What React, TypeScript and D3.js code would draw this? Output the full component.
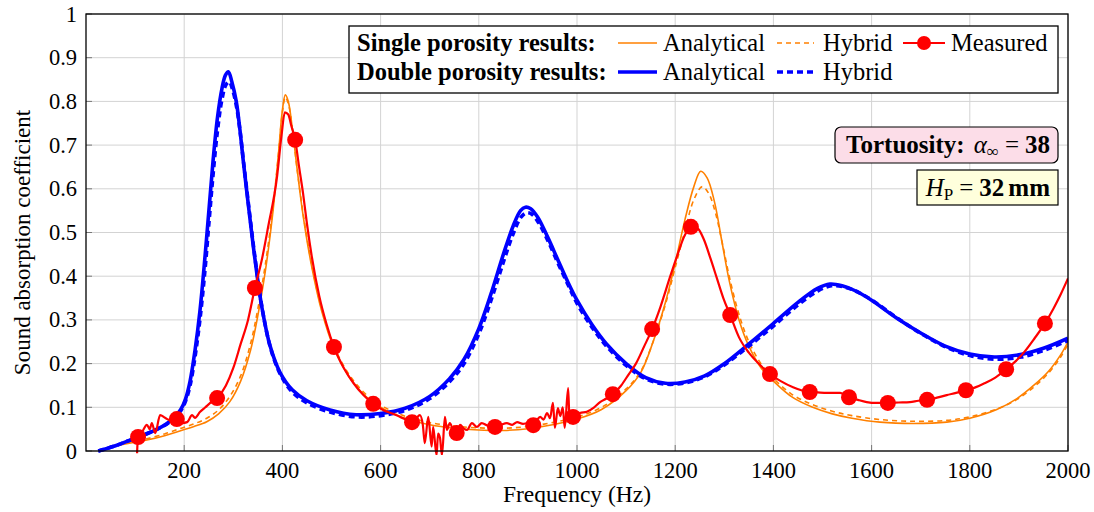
import React from 'react';
import * as d3 from 'd3';

type P = [number, number];

const xTicks = [200, 400, 600, 800, 1000, 1200, 1400, 1600, 1800, 2000];
const yTicks = [0, 0.1, 0.2, 0.3, 0.4, 0.5, 0.6, 0.7, 0.8, 0.9, 1];

const singleAnalytical: P[] = [
  [50, 0.01], [80, 0.016], [100, 0.02], [124, 0.025], [160, 0.035], [191, 0.046], [220, 0.056], [246, 0.067],
  [270, 0.085], [293, 0.113], [315, 0.16], [335, 0.23], [350, 0.31], [365, 0.41], [380, 0.54], [392, 0.68],
  [400, 0.78], [406, 0.815], [412, 0.8], [420, 0.74], [430, 0.645], [442, 0.54], [460, 0.42], [480, 0.32],
  [505, 0.235], [540, 0.163], [580, 0.115], [620, 0.088], [660, 0.071], [700, 0.06], [750, 0.052], [800, 0.048],
  [850, 0.047], [900, 0.051], [950, 0.06], [1000, 0.073], [1050, 0.095], [1100, 0.138], [1130, 0.18], [1155, 0.25],
  [1180, 0.34], [1200, 0.43], [1220, 0.53], [1238, 0.605], [1252, 0.64], [1265, 0.625], [1280, 0.57], [1295, 0.48],
  [1310, 0.39], [1330, 0.3], [1350, 0.24], [1375, 0.19], [1400, 0.16], [1440, 0.122], [1480, 0.1], [1520, 0.085],
  [1560, 0.075], [1617, 0.066], [1685, 0.063], [1753, 0.066], [1800, 0.075], [1855, 0.095], [1896, 0.12],
  [1930, 0.15], [1960, 0.182], [1985, 0.22], [2000, 0.25],
];

const singleHybrid: P[] = [
  [50, 0.011], [80, 0.018], [100, 0.022], [124, 0.028], [160, 0.039], [191, 0.051], [220, 0.062], [246, 0.075],
  [270, 0.094], [293, 0.125], [315, 0.172], [335, 0.245], [350, 0.325], [365, 0.425], [380, 0.55], [392, 0.68],
  [400, 0.775], [406, 0.81], [412, 0.795], [420, 0.74], [430, 0.645], [442, 0.545], [460, 0.425], [480, 0.325],
  [505, 0.24], [540, 0.168], [580, 0.12], [620, 0.093], [660, 0.076], [700, 0.065], [750, 0.057], [800, 0.053],
  [850, 0.052], [900, 0.056], [950, 0.065], [1000, 0.078], [1050, 0.1], [1100, 0.142], [1130, 0.183], [1155, 0.25],
  [1180, 0.335], [1200, 0.42], [1220, 0.505], [1238, 0.575], [1255, 0.605], [1268, 0.59], [1282, 0.545], [1297, 0.47],
  [1312, 0.39], [1332, 0.305], [1352, 0.245], [1377, 0.196], [1400, 0.166], [1440, 0.128], [1480, 0.106], [1520, 0.091],
  [1560, 0.081], [1617, 0.072], [1685, 0.068], [1753, 0.07], [1800, 0.078], [1855, 0.096], [1896, 0.118],
  [1930, 0.146], [1960, 0.178], [1985, 0.215], [2000, 0.245],
];

const doubleAnalytical: P[] = [
  [25, 0.0], [60, 0.012], [90, 0.025], [125, 0.04], [145, 0.05], [165, 0.063], [180, 0.077], [193, 0.095],
  [203, 0.12], [212, 0.16], [222, 0.23], [232, 0.32], [242, 0.44], [251, 0.56], [259, 0.667], [268, 0.765], [277, 0.83],
  [284, 0.86], [290, 0.868], [297, 0.845], [306, 0.8], [313, 0.74], [320, 0.667], [332, 0.55], [344, 0.44],
  [358, 0.33], [375, 0.24], [395, 0.18], [420, 0.14], [450, 0.115], [497, 0.094], [550, 0.083], [600, 0.086],
  [650, 0.098], [700, 0.125], [740, 0.165], [770, 0.21], [800, 0.28], [825, 0.36], [850, 0.45], [870, 0.515],
  [885, 0.55], [895, 0.558], [905, 0.555], [920, 0.535], [940, 0.49], [960, 0.44], [980, 0.39], [1000, 0.345],
  [1030, 0.29], [1060, 0.245], [1100, 0.2], [1140, 0.168], [1180, 0.155], [1220, 0.158], [1260, 0.172],
  [1300, 0.2], [1350, 0.245], [1400, 0.292], [1450, 0.34], [1490, 0.372], [1515, 0.382], [1540, 0.378],
  [1570, 0.365], [1600, 0.345], [1650, 0.305], [1700, 0.27], [1750, 0.24], [1800, 0.222], [1850, 0.215],
  [1900, 0.22], [1950, 0.235], [2000, 0.258],
];

const doubleHybrid: P[] = [
  [25, 0.0], [60, 0.012], [90, 0.025], [125, 0.04], [145, 0.05], [165, 0.062], [180, 0.075], [193, 0.092],
  [203, 0.115], [212, 0.15], [222, 0.215], [232, 0.3], [242, 0.41], [251, 0.53], [259, 0.635], [268, 0.735], [277, 0.805],
  [285, 0.838], [292, 0.845], [299, 0.825], [307, 0.785], [314, 0.73], [321, 0.66], [333, 0.545], [345, 0.435],
  [359, 0.325], [376, 0.235], [396, 0.175], [420, 0.135], [450, 0.11], [497, 0.089], [550, 0.078], [600, 0.081],
  [650, 0.093], [700, 0.12], [740, 0.158], [770, 0.2], [800, 0.268], [825, 0.345], [850, 0.432], [870, 0.497],
  [886, 0.535], [897, 0.545], [908, 0.542], [922, 0.522], [942, 0.478], [962, 0.428], [982, 0.38], [1000, 0.338],
  [1030, 0.284], [1060, 0.24], [1100, 0.196], [1140, 0.165], [1180, 0.153], [1220, 0.156], [1260, 0.17],
  [1300, 0.197], [1350, 0.24], [1400, 0.286], [1450, 0.334], [1490, 0.366], [1518, 0.378], [1545, 0.375],
  [1575, 0.362], [1605, 0.342], [1655, 0.302], [1705, 0.266], [1755, 0.236], [1805, 0.217], [1855, 0.21],
  [1905, 0.215], [1955, 0.232], [2000, 0.253],
];

const measuredCurve: P[] = [
  [104, -0.005], [106, 0.032], [115, 0.045], [124, 0.06], [130, 0.05], [134, 0.064], [141, 0.041], [151, 0.082],
  [161, 0.076], [172, 0.07], [185, 0.073], [196, 0.064], [206, 0.066], [216, 0.082], [222, 0.076], [232, 0.089],
  [243, 0.1], [253, 0.11], [267, 0.121], [285, 0.15], [300, 0.19], [315, 0.245], [330, 0.3], [344, 0.373],
  [358, 0.437], [371, 0.513], [389, 0.627], [398, 0.72], [405, 0.775], [412, 0.77], [418, 0.745], [426, 0.712],
  [434, 0.65], [442, 0.59], [450, 0.52], [460, 0.444], [475, 0.355], [490, 0.29], [505, 0.238], [525, 0.19],
  [545, 0.155], [565, 0.128], [585, 0.108], [605, 0.094], [625, 0.085], [640, 0.078], [655, 0.07], [664, 0.066],
  [672, 0.074], [680, 0.082], [686, 0.06], [690, 0.018], [697, 0.078], [704, 0.01], [707, 0.055], [714, -0.01],
  [717, 0.04], [721, 0.03], [725, -0.01], [731, 0.078], [735, 0.048], [741, 0.064], [747, 0.05], [755, 0.041],
  [762, 0.06], [769, 0.052], [776, 0.048], [786, 0.064], [796, 0.055], [806, 0.064], [818, 0.058], [833, 0.055],
  [845, 0.06], [857, 0.064], [868, 0.06], [878, 0.066], [890, 0.062], [900, 0.064], [911, 0.059], [918, 0.07],
  [925, 0.078], [932, 0.072], [939, 0.087], [945, 0.075], [951, 0.11], [955, 0.053], [961, 0.098], [966, 0.08],
  [971, 0.1], [975, 0.053], [982, 0.144], [985, 0.064], [992, 0.078], [1006, 0.087], [1020, 0.09], [1035, 0.1],
  [1047, 0.112], [1060, 0.12], [1073, 0.13], [1090, 0.15], [1105, 0.175], [1120, 0.2], [1137, 0.24], [1153, 0.279],
  [1170, 0.33], [1190, 0.4], [1205, 0.45], [1218, 0.49], [1232, 0.513], [1245, 0.51], [1258, 0.485], [1272, 0.44],
  [1285, 0.395], [1298, 0.35], [1312, 0.311], [1330, 0.26], [1350, 0.225], [1370, 0.2], [1393, 0.176], [1415, 0.16],
  [1440, 0.146], [1460, 0.138], [1474, 0.135], [1490, 0.134], [1509, 0.133], [1536, 0.133], [1554, 0.123],
  [1572, 0.117], [1590, 0.112], [1610, 0.11], [1633, 0.11], [1655, 0.111], [1678, 0.112], [1695, 0.115],
  [1713, 0.117], [1733, 0.122], [1753, 0.128], [1772, 0.133], [1792, 0.139], [1810, 0.145], [1830, 0.155],
  [1852, 0.168], [1874, 0.187], [1893, 0.205], [1912, 0.228], [1932, 0.258], [1953, 0.292], [1970, 0.325],
  [1985, 0.358], [2000, 0.395],
];

const markerFreqs = [106, 185, 267, 344, 426, 505, 585, 664, 755, 833, 911, 992, 1073, 1153, 1232, 1312, 1393, 1474, 1554, 1633, 1713, 1792, 1874, 1953];
const markerValues = [0.032, 0.073, 0.121, 0.373, 0.712, 0.238, 0.108, 0.066, 0.041, 0.055, 0.059, 0.078, 0.13, 0.279, 0.513, 0.311, 0.176, 0.135, 0.123, 0.11, 0.117, 0.139, 0.187, 0.292];

const ORANGE = '#ff8000';
const RED = '#ff0000';
const BLUE = '#0000ff';
const FONT = '"Liberation Serif", "Times New Roman", Times, serif';

export default function App() {
  const X0 = 86, X1 = 1068, Y0 = 451, Y1 = 14;
  const x = d3.scaleLinear().domain([0, 2000]).range([X0, X1]);
  const y = d3.scaleLinear().domain([0, 1]).range([Y0, Y1]);
  const smooth = d3.line<P>().x(d => x(d[0])).y(d => y(d[1])).curve(d3.curveCatmullRom.alpha(0.5));
  const measLine = d3.line<P>().x(d => x(d[0])).y(d => y(d[1])).curve(d3.curveMonotoneX);
  const fmt = (v: number) => (v === 0 ? '0' : v === 1 ? '1' : d3.format('.1f')(v));

  const row1 = 51, row2 = 80;
  const lx = 618;
  const ts = { fontFamily: FONT };
  const LF = 24.5;

  return (
    <svg width={1094} height={512} style={{ position: 'absolute', left: 0, top: 0, display: 'block', background: '#fff', fontFamily: FONT }}>
      <defs>
        <clipPath id="plotclip">
          <rect x={X0} y={Y1} width={X1 - X0} height={Y0 - Y1 + 4} />
        </clipPath>
      </defs>
      <rect x={0} y={0} width={1094} height={512} fill="#fff" />
      {/* grid */}
      {xTicks.map(t => (
        <line key={'gx' + t} x1={x(t)} x2={x(t)} y1={Y1} y2={Y0} stroke="#d3d3d3" strokeWidth={1} />
      ))}
      {yTicks.map(t => (
        <line key={'gy' + t} x1={X0} x2={X1} y1={y(t)} y2={y(t)} stroke="#d3d3d3" strokeWidth={1} />
      ))}
      {/* ticks */}
      {xTicks.map(t => (
        <g key={'tx' + t}>
          <line x1={x(t)} x2={x(t)} y1={Y0} y2={Y0 - 6} stroke="#777" strokeWidth={1} />
          <text style={ts} x={x(t)} y={Y0 + 27} textAnchor="middle" fontSize={22.5}>{t}</text>
        </g>
      ))}
      {yTicks.map(t => (
        <g key={'ty' + t}>
          <line x1={X0} x2={X0 + 6} y1={y(t)} y2={y(t)} stroke="#777" strokeWidth={1} />
          <text style={ts} x={X0 - 9} y={y(t) + 7.5} textAnchor="end" fontSize={22.5}>{fmt(t)}</text>
        </g>
      ))}
      {/* curves */}
      <g clipPath="url(#plotclip)" fill="none">
        <path d={smooth(singleAnalytical) || ''} stroke={ORANGE} strokeWidth={1.6} />
        <path d={smooth(singleHybrid) || ''} stroke={ORANGE} strokeWidth={1.6} strokeDasharray="5 4" />
        <path d={smooth(doubleAnalytical) || ''} stroke={BLUE} strokeWidth={3.6} />
        <path d={smooth(doubleHybrid) || ''} stroke={BLUE} strokeWidth={3.6} strokeDasharray="6 4" />
        <path d={measLine(measuredCurve) || ''} stroke={RED} strokeWidth={2.2} strokeLinejoin="round" />
      </g>
      {markerFreqs.map((f, i) => (
        <circle key={'m' + i} cx={x(f)} cy={y(markerValues[i])} r={8} fill={RED} />
      ))}
      {/* frame */}
      <rect x={X0} y={Y1} width={X1 - X0} height={Y0 - Y1} fill="none" stroke="#000" strokeWidth={1.3} />
      {/* axis labels */}
      <text style={ts} x={(X0 + X1) / 2} y={502} textAnchor="middle" fontSize={23.5}>Frequency (Hz)</text>
      <text style={ts} transform={`translate(30, ${(Y0 + Y1) / 2 + 10}) rotate(-90)`} textAnchor="middle" fontSize={23}>Sound absorption coefficient</text>
      {/* legend */}
      <rect x={349} y={26} width={709} height={67} fill="#fff" stroke="#000" strokeWidth={1.3} />
      <text style={ts} x={357} y={row1} fontSize={LF} fontWeight="bold">Single porosity results:</text>
      <text style={ts} x={357} y={row2} fontSize={LF} fontWeight="bold">Double porosity results:</text>
      <line x1={lx} x2={lx + 39} y1={row1 - 8} y2={row1 - 8} stroke={ORANGE} strokeWidth={1.6} />
      <text style={ts} x={663} y={row1} fontSize={LF}>Analytical</text>
      <line x1={777} x2={814} y1={row1 - 8} y2={row1 - 8} stroke={ORANGE} strokeWidth={1.6} strokeDasharray="5 4" />
      <text style={ts} x={823} y={row1} fontSize={LF}>Hybrid</text>
      <line x1={903} x2={945} y1={row1 - 8} y2={row1 - 8} stroke={RED} strokeWidth={2.2} />
      <circle cx={924} cy={row1 - 8} r={7} fill={RED} />
      <text style={ts} x={951} y={row1} fontSize={LF}>Measured</text>
      <line x1={lx} x2={lx + 39} y1={row2 - 8} y2={row2 - 8} stroke={BLUE} strokeWidth={3.6} />
      <text style={ts} x={663} y={row2} fontSize={LF}>Analytical</text>
      <line x1={777} x2={814} y1={row2 - 8} y2={row2 - 8} stroke={BLUE} strokeWidth={3.6} strokeDasharray="6 4" />
      <text style={ts} x={823} y={row2} fontSize={LF}>Hybrid</text>
      {/* annotations */}
      <rect x={835} y={127} width={223} height={36} rx={6} ry={6} fill="#fcdde8" stroke="#000" strokeWidth={1.2} />
      <text style={ts} x={1050} y={153} textAnchor="end" fontSize={25}>
        <tspan fontWeight="bold">Tortuosity:</tspan>
        <tspan fontStyle="italic" dx={9}>α</tspan>
        <tspan fontSize={17} dy={4}>∞</tspan>
        <tspan dy={-4} dx={6}>=</tspan>
        <tspan fontWeight="bold" dx={6}>38</tspan>
      </text>
      <rect x={917} y={170} width={141} height={35} fill="#ffffdc" stroke="#000" strokeWidth={1.2} />
      <text style={ts} x={1050} y={196} textAnchor="end" fontSize={25}>
        <tspan fontStyle="italic">H</tspan>
        <tspan fontSize={17} dy={4}>P</tspan>
        <tspan dy={-4} dx={6}>=</tspan>
        <tspan fontWeight="bold" dx={6}>32</tspan>
        <tspan fontWeight="bold" dx={4}>mm</tspan>
      </text>
    </svg>
  );
}
